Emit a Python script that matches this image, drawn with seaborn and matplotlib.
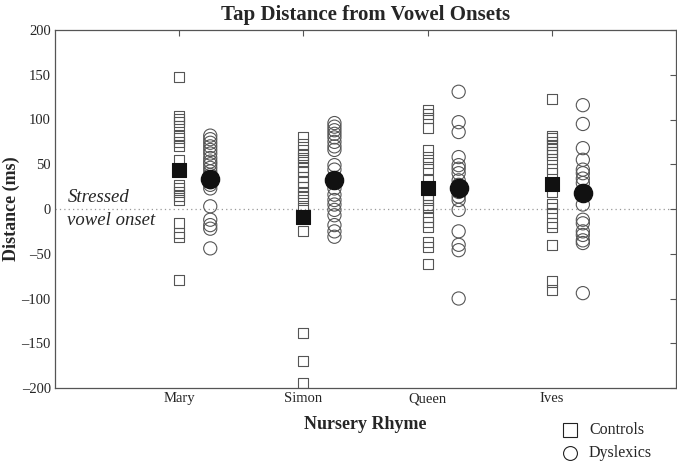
import numpy as np
import pandas as pd
import matplotlib
matplotlib.use("Agg")
import matplotlib.pyplot as plt
import seaborn as sns

rhymes = ["Mary", "Simon", "Queen", "Ives"]
groups = ["Controls", "Dyslexics"]

mary_controls = [148, 104, 101, 97, 93, 83, 79, 75, 70, 55, 27, 23, 19, 15, 10, -16, -27, -31, -79]
mary_dyslexics = [82, 78, 74, 70, 66, 62, 57, 53, 50, 46, 42, 38, 34, 30, 27, 23, 3, -12, -18, -22, -44]
simon_controls = [80, 73, 66, 60, 57, 53, 47, 42, 36, 30, 25, 18, 14, 10, 1, -25, -139, -170, -194]
simon_dyslexics = [96, 92, 88, 84, 80, 75, 70, 66, 49, 44, 23, 16, 10, 5, -1, -7, -18, -25, -31]
queen_controls = [111, 106, 102, 90, 66, 58, 51, 45, 32, 16, 10, 5, 1, -9, -14, -20, -37, -42, -61]
queen_dyslexics = [131, 97, 86, 58, 49, 45, 40, 32, 27, 19, 14, 10, -1, -25, -40, -46, -100]
ives_controls = [123, 82, 79, 75, 71, 67, 64, 60, 56, 45, 40, 19, 6, 1, -5, -16, -20, -40, -81, -91]
ives_dyslexics = [116, 95, 68, 55, 44, 40, 34, 29, 5, -12, -16, -25, -29, -35, -38, -94]

mean_controls = [44, -9, 24, 28]
mean_dyslexics = [34, 32, 23, 18]

values = {
    ("Mary", "Controls"): mary_controls, ("Mary", "Dyslexics"): mary_dyslexics,
    ("Simon", "Controls"): simon_controls, ("Simon", "Dyslexics"): simon_dyslexics,
    ("Queen", "Controls"): queen_controls, ("Queen", "Dyslexics"): queen_dyslexics,
    ("Ives", "Controls"): ives_controls, ("Ives", "Dyslexics"): ives_dyslexics,
}

offset = {"Controls": 0.0, "Dyslexics": 0.25}
rows = []
for i, r in enumerate(rhymes):
    for g in groups:
        for v in values[(r, g)]:
            rows.append({"pos": i + 1 + offset[g], "dist": v, "group": g})
df = pd.DataFrame(rows)

mrows = []
for i, r in enumerate(rhymes):
    mrows.append({"pos": i + 1 + offset["Controls"], "dist": mean_controls[i], "group": "Controls"})
    mrows.append({"pos": i + 1 + offset["Dyslexics"], "dist": mean_dyslexics[i], "group": "Dyslexics"})
mdf = pd.DataFrame(mrows)

sns.set_style("white")
plt.rcParams["font.family"] = ["Liberation Serif", "DejaVu Serif"]

fig = plt.figure(figsize=(6.77, 4.62), dpi=100)
ax = fig.add_axes([55/677, 74/462, 621/677, 358/462])

edge = "#555555"
ax.axhline(0, color="#999999", linestyle=(0, (1, 2.5)), linewidth=0.9, zorder=0)

sns.scatterplot(data=df[df.group == "Controls"], x="pos", y="dist", marker="s", s=52,
                facecolor="none", edgecolor=edge, linewidth=0.8, ax=ax, legend=False)
sns.scatterplot(data=df[df.group == "Dyslexics"], x="pos", y="dist", marker="o", s=90,
                facecolor="none", edgecolor=edge, linewidth=0.8, ax=ax, legend=False)
sns.scatterplot(data=mdf[mdf.group == "Controls"], x="pos", y="dist", marker="s", s=95,
                color="#111111", edgecolor="#111111", ax=ax, legend=False, zorder=5)
sns.scatterplot(data=mdf[mdf.group == "Dyslexics"], x="pos", y="dist", marker="o", s=170,
                color="#111111", edgecolor="#111111", ax=ax, legend=False, zorder=5)

ax.set_xlim(0, 5)
ax.set_ylim(-200, 200)
ax.set_xticks([1, 2, 3, 4])
ax.set_xticklabels(rhymes)
ax.set_yticks(np.arange(-200, 201, 50))
ax.set_yticklabels([("\u2013" + str(-t)) if t < 0 else str(t) for t in range(-200, 201, 50)])
ax.tick_params(direction="in", length=4, width=0.8, color=edge, labelsize=10.5,
               top=True, right=True, pad=3)
for s in ax.spines.values():
    s.set_visible(True)
    s.set_color(edge)
    s.set_linewidth(0.9)

ax.set_xlabel("Nursery Rhyme", fontsize=13, fontweight="bold", labelpad=8)
ax.set_ylabel("Distance (ms)", fontsize=13, fontweight="bold")
ax.yaxis.set_label_coords(-0.056, 0.5)
ax.set_title("Tap Distance from Vowel Onsets", fontsize=15, fontweight="bold", pad=7)

ax.text(0.1, 13, "Stressed", fontsize=13.5, style="italic", ha="left", va="center")
ax.text(0.1, -13, "vowel onset", fontsize=13.5, style="italic", ha="left", va="center")

ax.plot([570/677], [1 - 430/462], marker="s", markersize=10, markerfacecolor="none",
        markeredgecolor="#222222", markeredgewidth=0.8, transform=fig.transFigure, clip_on=False)
ax.plot([570/677], [1 - 453/462], marker="o", markersize=10, markerfacecolor="none",
        markeredgecolor="#222222", markeredgewidth=0.8, transform=fig.transFigure, clip_on=False)
fig.text(589/677, 1 - 430/462, "Controls", fontsize=11.5, ha="left", va="center")
fig.text(589/677, 1 - 453/462, "Dyslexics", fontsize=11.5, ha="left", va="center")

fig.savefig("out.png", dpi=100)
